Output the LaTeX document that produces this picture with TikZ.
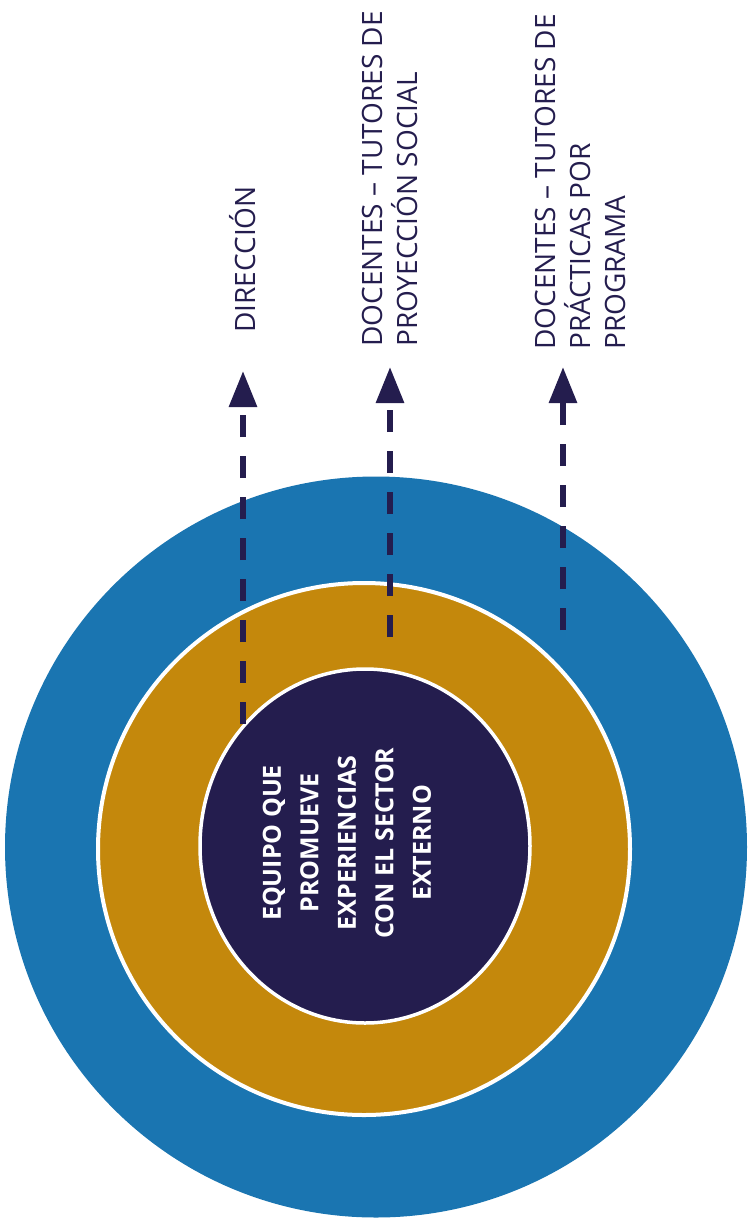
\documentclass[tikz,border=0pt]{standalone}
\usepackage{fontspec}
\setmainfont{Open Sans}
\usepackage{tikz}
\usetikzlibrary{positioning, shapes.geometric, arrows.meta}

\definecolor{azul}{RGB}{26,117,177}
\definecolor{oro}{RGB}{196,136,12}
\definecolor{marino}{RGB}{36,29,78}

\begin{document}
\begin{tikzpicture}[x=1pt, y=-1pt,
    anillo/.style={ellipse, inner sep=0pt, outer sep=0pt},
    etiqueta/.style={rotate=90, anchor=west, align=left, inner sep=0pt, text=marino, font=\fontsize{28}{35}\selectfont},
    nucleo/.style={rotate=90, align=center, inner sep=0pt, text=white, font=\bfseries\fontsize{25}{37.5}\selectfont},
    flecha/.style={-{Triangle[width=27pt, length=36pt]}, line width=6pt, draw=marino, dash pattern=on 22pt off 19pt}
]
\useasboundingbox (0,0) rectangle (751,1226);

\node[anillo, fill=azul, minimum width=742pt, minimum height=741pt] (externo) at (376,847) {};
\node[anillo, fill=oro, draw=white, line width=4pt, minimum size=532pt] (medio) at (364,849) {};
\node[anillo, fill=marino, draw=white, line width=3.5pt, minimum width=330pt, minimum height=354pt] (interno) at (365,846) {};

\node[nucleo] (equipo) at (347,843) {EQUIPO QUE\\PROMUEVE\\EXPERIENCIAS\\CON EL SECTOR\\EXTERNO};

\node[etiqueta] (direccion) at (243,333) {DIRECCIÓN};
\node[etiqueta] (proyeccion) at (390,347) {DOCENTES – TUTORES DE\\PROYECCIÓN SOCIAL};
\node[etiqueta] (practicas) at (580,350) {DOCENTES – TUTORES DE\\PRÁCTICAS POR\\PROGRAMA};

\coordinate (p_dir) at (243,765);
\coordinate (p_proy) at (390,637);
\coordinate (p_prac) at (563,630);

\foreach \origen/\destino/\hueco in {p_dir/direccion/38, p_proy/proyeccion/20, p_prac/practicas/17}
    \draw[flecha, shorten >=\hueco pt] (\origen) -- (\origen |- \destino.west);

\end{tikzpicture}
\end{document}
